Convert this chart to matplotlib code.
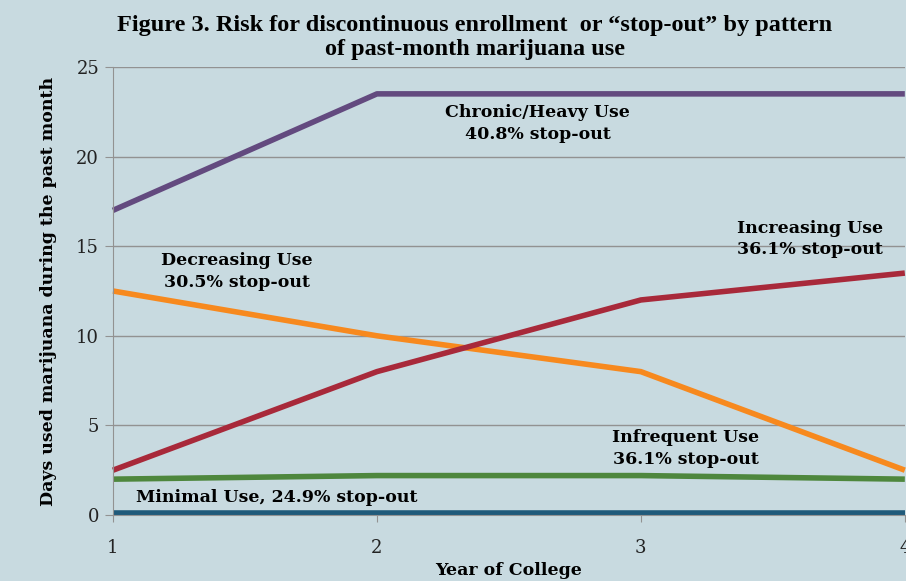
import numpy as np
from matplotlib import pyplot as plt

# data
years = [1, 2, 3, 4]
chronic = [17.0, 23.5, 23.5, 23.5]
decreasing = [12.5, 10.0, 8.0, 2.5]
increasing = [2.5, 8.0, 12.0, 13.5]
infrequent = [2.0, 2.2, 2.2, 2.0]
minimal = [0.1, 0.1, 0.1, 0.1]

bg = '#c8dae0'
serif = 'DejaVu Serif'

fig = plt.figure(figsize=(9.06, 5.81), dpi=100, facecolor=bg)
ax = fig.add_axes([0.1247, 0.1136, 0.8740, 0.7711], facecolor=bg)

# gridlines
ax.set_axisbelow(True)
ax.grid(axis='y', color='#929292', linewidth=1)

lw = 4
ax.plot(years, minimal, color='#1f5a7a', lw=lw, solid_capstyle='butt', clip_on=False)
ax.plot(years, infrequent, color='#4e873d', lw=lw, solid_capstyle='butt', clip_on=False)
ax.plot(years, decreasing, color='#f7891e', lw=lw, solid_capstyle='butt', clip_on=False)
ax.plot(years, increasing, color='#a8293a', lw=lw, solid_capstyle='butt', clip_on=False)
ax.plot(years, chronic, color='#634a7f', lw=lw, solid_capstyle='butt', clip_on=False)

ax.set_xlim(1, 4)
ax.set_ylim(0, 25)
ax.set_xticks(years)
ax.set_yticks([0, 5, 10, 15, 20, 25])

for s in ['top', 'right']:
    ax.spines[s].set_visible(False)
ax.spines['left'].set_color('#929292')
ax.spines['bottom'].set_color('#929292')
ax.tick_params(axis='y', length=6, color='#929292', labelsize=13, pad=4)
ax.tick_params(axis='x', length=5, color='#929292', labelsize=13, pad=12)
for lab in ax.get_xticklabels() + ax.get_yticklabels():
    lab.set_family(serif)
    lab.set_color('#222222')

ax.set_xlabel('Year of College', fontsize=12.5, fontweight='bold', family=serif, labelpad=4)
ax.set_ylabel('Days used marijuana during the past month', fontsize=12.5, fontweight='bold',
              family=serif, labelpad=14)

fig.text(0.524, 0.935, 'Figure 3. Risk for discontinuous enrollment  or \u201cstop-out\u201d by pattern\nof past-month marijuana use',
         ha='center', va='center', fontsize=17.5, fontweight='bold', family='Liberation Serif',
         linespacing=1.2)

kw = dict(ha='center', va='center', fontsize=12.5, fontweight='bold', family=serif, linespacing=1.35)
ax.text(2.61, 21.85, 'Chronic/Heavy Use\n40.8% stop-out', **kw)
ax.text(1.47, 13.6, 'Decreasing Use\n30.5% stop-out', **kw)
ax.text(3.64, 15.4, 'Increasing Use\n36.1% stop-out', **kw)
ax.text(3.17, 3.7, 'Infrequent Use\n36.1% stop-out', **kw)
ax.text(1.62, 1.0, 'Minimal Use, 24.9% stop-out', **kw)

fig.savefig('out.png', dpi=100, facecolor=bg)
